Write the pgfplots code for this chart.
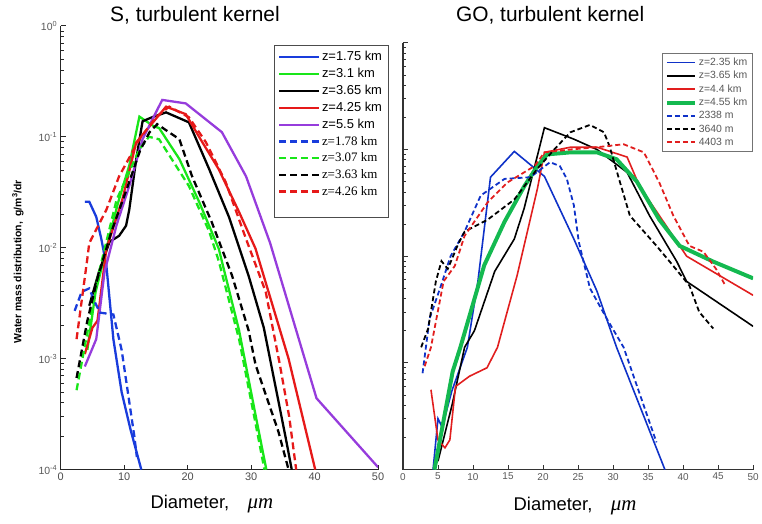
\documentclass[border=0pt]{standalone}
\usepackage{fontspec}
\setmainfont{Liberation Sans}
\newfontfamily\seriff{Liberation Serif}
\usepackage{pgfplots}
\pgfplotsset{compat=1.18}

\definecolor{lblue}{RGB}{25,60,220}
\definecolor{lgreen}{RGB}{25,230,25}
\definecolor{lred}{RGB}{230,25,25}
\definecolor{lpurple}{RGB}{150,60,220}
\definecolor{rblue}{RGB}{15,50,200}
\definecolor{rred}{RGB}{225,30,30}
\definecolor{rgreen}{RGB}{20,185,80}

\tikzset{
  lsolid/.style={line width=2.3pt},
  ldash/.style={line width=2.3pt, dash pattern=on 7pt off 4pt},
  rsolid/.style={line width=1.6pt},
  rdash/.style={line width=1.8pt, dash pattern=on 5pt off 3pt},
}

\begin{document}
\begin{tikzpicture}[x=1pt,y=1pt]
\path (0,0) rectangle (762,526);

% ---- left panel
\begin{axis}[scale only axis, at={(61pt,54pt)}, anchor=south west,
    width=319pt, height=446pt,
    ymode=log, ymin=1e-4, ymax=1, xmin=0, xmax=50,
    axis x line=bottom, axis y line=left,
    axis line style={-, line width=1.3pt, black!85},
    tick align=inside, major tick length=5pt, minor tick length=3pt,
    tick style={black!85, line width=0.8pt},
    xtick={0,10,...,50},
    xticklabel style={font=\fontsize{11}{13}\selectfont, text=black!70},
    ytick={1e-4,1e-3,1e-2,1e-1,1},
    yticklabels={10\textsuperscript{-4},10\textsuperscript{-3},10\textsuperscript{-2},10\textsuperscript{-1},10\textsuperscript{0}},
    yticklabel style={font=\fontsize{10.5}{12}\selectfont, text=black!65},
    legend cell align=left,
    legend style={at={(0.671,0.957)}, anchor=north west, draw=black!70,
      line width=0.6pt, font=\fontsize{13}{14.5}\selectfont, row sep=2.2pt,
      inner xsep=4pt, inner ysep=4pt},
    legend image code/.code={\draw[#1] (0pt,0pt) -- (40pt,0pt);},
    /pgf/number format/assume math mode=true,
]
\addplot[lsolid, lblue] coordinates {(3.8,0.026) (4.5,0.026) (5.6,0.019) (6.4,0.012) (7.2,0.0069) (8.3,0.0015) (9.6,0.0005) (11,0.00023) (12.7,0.0001)};
\addplot[lsolid, lgreen] coordinates {(4.2,0.0012) (5.5,0.004) (7.2,0.0098) (9,0.025) (10.8,0.055) (12.4,0.152) (14.7,0.124) (15.5,0.12) (18.7,0.063) (21.8,0.026) (24.9,0.0098) (28.1,0.0018) (30.7,0.00031) (32.4,0.0001)};
\addplot[lsolid, black] coordinates {(4.5,0.003) (6,0.006) (7.7,0.0113) (9.2,0.0128) (10.3,0.0158) (10.8,0.022) (11.9,0.063) (12.9,0.138) (14.4,0.15) (16.6,0.166) (20.2,0.135) (23.4,0.051) (26.5,0.019) (29.6,0.0056) (32,0.0019) (35.4,0.0002) (36.4,0.0001)};
\addplot[lsolid, lred] coordinates {(3.8,0.0011) (5,0.0019) (5.8,0.0022) (7.2,0.0098) (9.7,0.027) (11.9,0.089) (16.6,0.187) (19.7,0.16) (21.8,0.1) (24.9,0.051) (28.1,0.021) (30.7,0.0098) (35.9,0.001) (40.1,0.0001)};
\addplot[lsolid, lpurple] coordinates {(3.8,0.00085) (5.6,0.0015) (6.9,0.006) (8.8,0.016) (10.8,0.036) (12.9,0.095) (15,0.166) (16,0.215) (19.7,0.2) (25.4,0.11) (29.2,0.044) (33,0.011) (40.3,0.00044) (50,0.000105)};
\addplot[ldash, lblue] coordinates {(2.2,0.0027) (3.3,0.004) (4.5,0.0043) (5.3,0.0033) (6.2,0.0026) (8.3,0.0025) (9.6,0.0012) (11.6,0.0002) (12,0.00013)};
\addplot[ldash, lgreen] coordinates {(2.5,0.00052) (5.8,0.0053) (8.8,0.027) (12.4,0.077) (13.9,0.1) (15.5,0.095) (20.2,0.036) (23.4,0.014) (24.9,0.0076) (28.1,0.0015) (30.7,0.00026) (32.1,0.0001)};
\addplot[ldash, black] coordinates {(2.5,0.00067) (4.2,0.0022) (5.8,0.0053) (8,0.014) (10.5,0.035) (12.5,0.075) (14,0.11) (15.2,0.13) (18.7,0.095) (20.7,0.044) (23.8,0.017) (27,0.0056) (29.6,0.0018) (30.7,0.00088) (34.3,0.00022) (35.9,0.0001)};
\addplot[ldash, lred] coordinates {(2.5,0.0015) (4.2,0.008) (4.5,0.011) (7.2,0.022) (9.2,0.044) (12.4,0.095) (15,0.15) (17.1,0.187) (20.2,0.15) (22.9,0.089) (26,0.039) (29.2,0.012) (32.3,0.004) (34.5,0.0009) (36,0.0003) (37.1,0.0001)};
\addlegendimage{white}
\legend{z=1.75 km, z=3.1 km, z=3.65 km, z=4.25 km, z=5.5 km,
  \seriff z=1.78 km, \seriff z=3.07 km, \seriff z=3.63 km,
  \seriff z=4.26 km, \phantom{z}}
\end{axis}

% ---- right panel
\begin{axis}[scale only axis, at={(405pt,54pt)}, anchor=south west,
    width=352pt, height=429pt,
    ymode=log, ymin=1e-4, ymax=1, xmin=0, xmax=50,
    axis x line=bottom, axis y line=left,
    axis line style={-, line width=1.3pt, black!80},
    tick align=inside, major tick length=5pt, minor tick length=3pt,
    tick style={black!80, line width=0.8pt},
    xtick={0,5,...,50},
    xticklabel style={font=\fontsize{10}{12}\selectfont, text=black!65},
    ytick={1e-4,1e-3,1e-2,1e-1,1},
    yticklabels={},
    legend cell align=left,
    legend style={at={(0.739,0.977)}, anchor=north west, draw=black!55,
      line width=0.5pt, font=\fontsize{10.5}{11.5}\selectfont, text=black!65,
      row sep=0.4pt, inner xsep=3pt, inner ysep=3pt},
    legend image code/.code={\draw[#1] (0pt,0pt) -- (28pt,0pt);},
    /pgf/number format/assume math mode=true,
]
\addplot[rsolid, rblue] coordinates {(4.3,0.0001) (5,0.0003) (5.6,0.00025) (7,0.00055) (9.2,0.0014) (10.7,0.0058) (12.5,0.055) (15.9,0.096) (20.2,0.056) (24.4,0.0145) (27.7,0.0047) (30.5,0.0014) (37.4,0.0001)};
\addplot[rsolid, black] coordinates {(5,0.00012) (7,0.0004) (8.8,0.0014) (10.2,0.002) (13.1,0.0072) (15.9,0.0145) (17.3,0.028) (20.2,0.16) (24.4,0.125) (27.7,0.1) (32,0.061) (35.2,0.024) (39.1,0.0089) (40.5,0.0058) (50,0.0022)};
\addplot[rsolid, rred] coordinates {(4,0.00056) (5,0.00019) (6,0.00016) (6.7,0.00019) (7.5,0.0006) (9.5,0.00075) (12,0.0009) (13.5,0.0014) (16.3,0.0066) (19.2,0.043) (20.2,0.094) (23.9,0.105) (27.7,0.105) (32,0.085) (33.8,0.045) (37.2,0.021) (40.5,0.01) (50,0.0043)};
\addplot[line width=4pt, rgreen] coordinates {(4.5,0.0001) (7.1,0.00083) (8.2,0.0014) (11.6,0.0082) (14.5,0.021) (17.3,0.045) (19.2,0.07) (20.6,0.09) (23.9,0.094) (27.7,0.094) (30.5,0.081) (33.4,0.05) (36.6,0.022) (39.5,0.0125) (44.3,0.0089) (50,0.0062)};
\addplot[rdash, rblue] coordinates {(2.8,0.0008) (3.8,0.0026) (5.3,0.005) (6.8,0.01) (8.8,0.017) (11.1,0.037) (14.5,0.053) (18.2,0.055) (21,0.076) (22.4,0.07) (23.4,0.053) (24.4,0.03) (25.1,0.0137) (26.7,0.005) (29.1,0.0026) (31.5,0.0014) (36.2,0.00018)};
\addplot[rdash, black] coordinates {(2.6,0.0014) (3.6,0.0021) (4.7,0.0058) (5.5,0.009) (6.4,0.0076) (7.8,0.0126) (8.8,0.017) (12.1,0.022) (15.9,0.034) (19.2,0.066) (21.6,0.1) (23.9,0.145) (26.7,0.17) (28.7,0.145) (29.5,0.107) (31,0.049) (32.4,0.024) (36.2,0.0125) (38.6,0.0081) (40.9,0.0053) (42.3,0.003) (44.3,0.0021)};
\addplot[rdash, rred] coordinates {(3.1,0.00093) (4,0.0014) (5.8,0.0058) (7.4,0.0081) (8.8,0.0155) (12.1,0.032) (14.9,0.049) (18.8,0.07) (20.2,0.094) (23.9,0.1) (27.7,0.105) (31.5,0.112) (34.4,0.094) (36.6,0.049) (38.6,0.024) (40.9,0.0125) (42.9,0.011) (44.7,0.0076) (45.9,0.0055)};
\legend{z=2.35 km, z=3.65 km, z=4.4 km, z=4.55 km, 2338 m, 3640 m, 4403 m}
\end{axis}

% ---- titles and labels
\node[font=\fontsize{21}{24}\selectfont] at (196,511) {S, turbulent kernel};
\node[font=\fontsize{21}{24}\selectfont] at (553,511) {GO, turbulent kernel};
\node[font=\fontsize{18.5}{22}\selectfont] at (213,19) {Diameter,\quad{\seriff\itshape\fontsize{21}{22}\selectfont μm}};
\node[font=\fontsize{18.5}{22}\selectfont] at (578,17) {Diameter,\quad{\seriff\itshape\fontsize{21}{22}\selectfont μm}};
\node[rotate=90, font=\bfseries\fontsize{10.5}{12}\selectfont] at (18,263) {Water mass distribution,\enspace g/m\textsuperscript{3}/dr};
\end{tikzpicture}
\end{document}
